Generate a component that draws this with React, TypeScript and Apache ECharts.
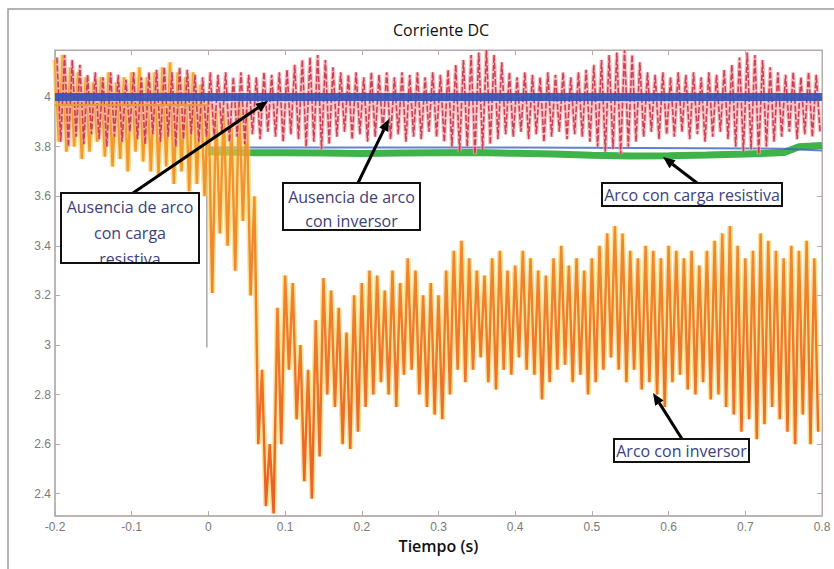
import React, { useEffect, useRef } from "react";
import * as echarts from "echarts";

// ---- data ----
const xTickLabels = ["-0.2", "-0.1", "0", "0.1", "0.2", "0.3", "0.4", "0.5", "0.6", "0.7", "0.8"];
const yTickValues = [2.4, 2.6, 2.8, 3.0, 3.2, 3.4, 3.6, 3.8, 4.0];

const cycleStart = -0.2; // s, first sampled cycle
const cycleStep = 0.01; // s, one oscillation cycle

// "Ausencia de arco con inversor" (red) — peak and trough of each cycle
const redPeaks = [
  4.16, 4.17, 4.15, 4.13,
  4.09, 4.1, 4.08, 4.1, 4.09, 4.07, 4.1, 4.08, 4.1,
  4.11, 4.12, 4.1, 4.12, 4.11, 4.09,
  4.08, 4.1, 4.09, 4.1, 4.08, 4.1, 4.09, 4.08, 4.1, 4.09, 4.1,
  4.11, 4.13, 4.15, 4.16, 4.17, 4.15, 4.12,
  4.1, 4.09, 4.1, 4.08, 4.1, 4.09, 4.1, 4.08, 4.1, 4.09, 4.1, 4.08, 4.1, 4.09, 4.11, 4.13,
  4.15, 4.17, 4.18, 4.19, 4.17, 4.14,
  4.1, 4.08, 4.1, 4.09, 4.08, 4.1, 4.09, 4.1, 4.08, 4.1, 4.11, 4.13,
  4.15, 4.17, 4.18, 4.19, 4.17, 4.14,
  4.1, 4.09, 4.1, 4.08, 4.1, 4.09, 4.1, 4.08, 4.1, 4.09, 4.11, 4.13,
  4.16, 4.18, 4.17, 4.15, 4.12,
  4.1, 4.09, 4.1, 4.08, 4.1, 4.09,
];
const redTroughs = [
  3.82, 3.8, 3.84, 3.81, 3.85, 3.83, 3.8, 3.84, 3.82, 3.86,
  3.83, 3.81, 3.85, 3.82, 3.84, 3.8, 3.83, 3.85, 3.82, 3.84,
  3.83, 3.86, 3.82, 3.84, 3.81, 3.85, 3.83, 3.86, 3.84, 3.82,
  3.85, 3.83, 3.8, 3.82, 3.79, 3.81, 3.84, 3.86, 3.83, 3.85,
  3.82, 3.84, 3.86, 3.83, 3.85, 3.82, 3.84, 3.83, 3.86, 3.84,
  3.82, 3.8, 3.78, 3.8, 3.77, 3.79, 3.81, 3.83, 3.85, 3.84,
  3.86, 3.83, 3.85, 3.82, 3.84, 3.86, 3.83, 3.85, 3.84, 3.82,
  3.8, 3.78, 3.79, 3.77, 3.8, 3.82, 3.84, 3.86, 3.83, 3.85,
  3.84, 3.86, 3.83, 3.85, 3.82, 3.84, 3.86, 3.83, 3.8, 3.78,
  3.79, 3.77, 3.8, 3.82, 3.84, 3.86, 3.83, 3.85, 3.84, 3.86,
];

// "Arco con inversor" (orange) — peak and trough of each cycle
const orangePeaks = [
  4.15, 4.17, 4.12, 4.1, 4.08, 4.06, 4.08, 4.1, 4.06, 4.08,
  4.1, 4.12, 4.08, 4.1, 4.12, 4.14, 4.1, 4.08, 4.1, 4.05,
  4.0, 3.95, 3.95, 3.9, 4.0, 3.95, 3.6, 2.9, 2.6, 3.15,
  3.28, 3.25, 3.0, 2.9, 3.1, 3.27, 3.22, 3.15, 3.05, 3.2,
  3.25, 3.3, 3.28, 3.22, 3.3, 3.25, 3.35, 3.3, 3.2, 3.25,
  3.2, 3.3, 3.38, 3.42, 3.35, 3.3, 3.28, 3.35, 3.38, 3.3,
  3.32, 3.38, 3.35, 3.3, 3.28, 3.35, 3.4, 3.32, 3.35, 3.3,
  3.35, 3.4, 3.45, 3.48, 3.45, 3.38, 3.35, 3.4, 3.38, 3.35,
  3.4, 3.38, 3.35, 3.38, 3.32, 3.38, 3.42, 3.45, 3.48, 3.4,
  3.35, 3.38, 3.45, 3.42, 3.38, 3.35, 3.4, 3.38, 3.42, 3.35,
];
const orangeTroughs = [
  3.82, 3.78, 3.8, 3.75, 3.78, 3.82, 3.76, 3.72, 3.75, 3.7,
  3.78, 3.74, 3.7, 3.68, 3.72, 3.65, 3.7, 3.62, 3.65, 3.6,
  3.21, 3.45, 3.4, 3.3, 3.5, 3.2, 2.6, 2.35, 2.32, 2.6,
  2.9, 2.7, 2.45, 2.38, 2.55, 2.8, 2.75, 2.6, 2.58, 2.65,
  2.75, 2.8, 2.85, 2.8, 2.75, 2.88, 2.9, 2.8, 2.75, 2.72,
  2.7, 2.8, 2.9, 2.85, 2.9, 2.95, 2.85, 2.82, 2.9, 2.88,
  2.95, 2.9, 2.88, 2.78, 2.85, 2.9, 2.92, 2.85, 2.88, 2.8,
  2.85, 2.9, 2.95, 2.9, 2.85, 2.9, 2.82, 2.85, 2.8, 2.75,
  2.85, 2.88, 2.82, 2.8, 2.85, 2.78, 2.8, 2.75, 2.72, 2.65,
  2.7, 2.62, 2.68, 2.75, 2.7, 2.65, 2.6, 2.72, 2.6, 2.65,
];

// "Arco con carga resistiva" (green band)
const greenTimes = [0, 0.05, 0.1, 0.15, 0.2, 0.25, 0.3, 0.35, 0.4, 0.45, 0.5, 0.55, 0.6, 0.65, 0.7, 0.75, 0.77, 0.8];
const greenValues = [3.78, 3.776, 3.775, 3.774, 3.772, 3.774, 3.775, 3.776, 3.773, 3.77, 3.765, 3.762, 3.763, 3.766, 3.77, 3.776, 3.8, 3.805];

// thin blue trace along the green band
const blueLowTimes = [0, 0.4, 0.75, 0.8];
const blueLowValues = [3.797, 3.797, 3.792, 3.785];

// "Ausencia de arco con carga resistiva" (thick blue)
const blueTimes = [-0.2, 0.8];
const blueValues = [4.0, 4.0];

// steady trace before the arc
const preTimes = [-0.2, 0.0];
const preValues = [3.968, 3.968];

// short grey transient at t = 0
const spikeTimes = [-0.002, -0.002];
const spikeValues = [3.95, 2.99];

function cyclePairs(peaks: number[], troughs: number[], phase: number) {
  const out: [number, number][] = [];
  for (let i = 0; i < peaks.length; i++) {
    const t = cycleStart + i * cycleStep + phase;
    out.push([t, peaks[i]]);
    out.push([t + cycleStep / 2, troughs[i]]);
  }
  return out;
}
function zipPairs(ts: number[], vs: number[]) {
  return ts.map((t, i) => [t, vs[i]]);
}

function arrow(x1: number, y1: number, x2: number, y2: number) {
  const a = Math.atan2(y2 - y1, x2 - x1);
  const L = 12, W = 5;
  const bx = x2 - L * Math.cos(a), by = y2 - L * Math.sin(a);
  return [
    { type: "line", shape: { x1, y1, x2: bx, y2: by }, style: { stroke: "#000", lineWidth: 3 }, z: 50 },
    {
      type: "polygon",
      shape: {
        points: [
          [x2, y2],
          [bx + W * Math.sin(a), by - W * Math.cos(a)],
          [bx - W * Math.sin(a), by + W * Math.cos(a)],
        ],
      },
      style: { fill: "#000" },
      z: 50,
    },
  ];
}

const FONT = "'Open Sans', 'Noto Sans', sans-serif";
const ANN = "#3d3f7c";

function box(x: number, y: number, w: number, h: number, lines: { text: string; y: number }[]) {
  const els: any[] = [
    { type: "rect", shape: { x, y, width: w, height: h }, style: { fill: "#fff", stroke: "#111", lineWidth: 2 }, z: 60 },
  ];
  lines.forEach((l) => {
    els.push({
      type: "text",
      x: x + w / 2,
      y: l.y,
      style: { text: l.text, fill: ANN, font: `16px ${FONT}`, textAlign: "center", textVerticalAlign: "middle" },
      z: 61,
    });
  });
  return els;
}

export default function App() {
  const ref = useRef<HTMLDivElement>(null);
  useEffect(() => {
    if (!ref.current) return;
    const chart = echarts.init(ref.current, undefined, { renderer: "svg" });
    const axisColor = "#b5abab";
    const orangeData = cyclePairs(orangePeaks, orangeTroughs, 0);
    const redData = cyclePairs(redPeaks, redTroughs, 0.0025);

    const graphics: any[] = [
      { type: "rect", shape: { x: 8, y: 9, width: 900, height: 700 }, style: { fill: "none", stroke: "#9c9c9c", lineWidth: 1.5 }, z: 1 },
      {
        type: "text",
        x: 441,
        y: 30,
        style: { text: "Corriente DC", fill: "#111", font: `16px ${FONT}`, textAlign: "center", textVerticalAlign: "middle" },
        z: 10,
      },
      ...arrow(133, 193, 268, 101),
      ...arrow(358, 183, 389, 119),
      ...arrow(697, 183, 663, 157),
      ...arrow(682, 439, 653, 393),
      ...box(61, 193, 138, 70, [
        { text: "Ausencia de arco", y: 207 },
        { text: "con carga", y: 233 },
        { text: "resistiva", y: 259 },
      ]),
      { type: "rect", shape: { x: 58, y: 264, width: 144, height: 12 }, style: { fill: "#fff" }, z: 62 },
      { type: "line", shape: { x1: 60, y1: 263, x2: 200, y2: 263 }, style: { stroke: "#111", lineWidth: 2 }, z: 63 },
      ...box(283, 183, 137, 47, [
        { text: "Ausencia de arco", y: 197 },
        { text: "con inversor", y: 221 },
      ]),
      ...box(602, 183, 180, 23, [{ text: "Arco con carga resistiva", y: 195 }]),
      ...box(614, 439, 135, 23, [{ text: "Arco con inversor", y: 451 }]),
    ];

    chart.setOption({
      animation: false,
      backgroundColor: "#fff",
      grid: { left: 55, right: 12, top: 50, bottom: 53, show: true, borderColor: axisColor, borderWidth: 1 },
      xAxis: [
        {
          type: "value",
          min: -0.2,
          max: 0.8,
          interval: 0.1,
          name: "Tiempo (s)",
          nameLocation: "middle",
          nameGap: 19,
          nameTextStyle: { color: "#111", fontFamily: FONT, fontSize: 16, fontWeight: 600 },
          axisLine: { onZero: false, lineStyle: { color: axisColor, width: 1.5 } },
          axisTick: { inside: true, length: 5, lineStyle: { color: axisColor } },
          axisLabel: {
            color: "#7a7a7a",
            fontFamily: "'Liberation Sans', Arial, sans-serif",
            fontSize: 12,
            margin: 5,
            formatter: (v: number) => xTickLabels[Math.round((v + 0.2) * 10)] ?? "",
          },
          splitLine: { show: false },
        },
        {
          type: "value",
          position: "top",
          min: -0.2,
          max: 0.8,
          interval: 0.1,
          axisLine: { onZero: false, lineStyle: { color: axisColor } },
          axisTick: { inside: true, length: 5, lineStyle: { color: axisColor } },
          axisLabel: { show: false },
          splitLine: { show: false },
        },
      ],
      yAxis: [
        {
          type: "value",
          min: 2.31,
          max: 4.19,
          axisLine: { show: true, onZero: false, lineStyle: { color: axisColor, width: 1.5 } },
          axisTick: { show: true, inside: true, length: 5, lineStyle: { color: axisColor }, customValues: yTickValues },
          axisLabel: {
            color: "#7a7a7a",
            fontFamily: "'Liberation Sans', Arial, sans-serif",
            fontSize: 12,
            margin: 4,
            customValues: yTickValues,
            formatter: (v: number) => String(Math.round(v * 10) / 10),
          },
          splitLine: { show: false },
        },
        {
          type: "value",
          position: "right",
          min: 2.31,
          max: 4.19,
          axisLine: { show: true, onZero: false, lineStyle: { color: axisColor } },
          axisTick: { show: true, inside: true, length: 5, lineStyle: { color: axisColor }, customValues: yTickValues },
          axisLabel: { show: false, customValues: yTickValues },
          splitLine: { show: false },
        },
      ],
      series: [
        {
          name: "Arco con carga resistiva",
          type: "line",
          data: zipPairs(greenTimes, greenValues),
          showSymbol: false,
          lineStyle: { color: "#3fb24a", width: 7 },
          z: 2,
        },
        {
          name: "blue-low",
          type: "line",
          data: zipPairs(blueLowTimes, blueLowValues),
          showSymbol: false,
          lineStyle: { color: "#3a63c4", width: 2, opacity: 0.8 },
          z: 2,
        },
        {
          name: "spike",
          type: "line",
          data: zipPairs(spikeTimes, spikeValues),
          showSymbol: false,
          lineStyle: { color: "#a8a8a8", width: 1.5 },
          z: 2,
        },
        {
          name: "Arco con inversor (halo)",
          type: "line",
          data: orangeData,
          showSymbol: false,
          lineStyle: { color: "#fbcf52", width: 5.5, opacity: 0.6 },
          z: 3,
        },
        {
          name: "Arco con inversor",
          type: "line",
          data: orangeData,
          showSymbol: false,
          lineStyle: {
            width: 2.4,
            opacity: 0.9,
            color: new echarts.graphic.LinearGradient(0, 0, 0, 1, [
              { offset: 0, color: "#f3a126" },
              { offset: 1, color: "#e8501c" },
            ]),
          },
          z: 4,
        },
        {
          name: "Ausencia de arco con inversor (halo)",
          type: "line",
          data: redData,
          showSymbol: false,
          lineStyle: { color: "#f3a9ad", width: 4, opacity: 0.7 },
          z: 5,
        },
        {
          name: "Ausencia de arco con inversor",
          type: "line",
          data: redData,
          showSymbol: false,
          lineStyle: { color: "#c42a44", width: 1.6, opacity: 0.85, type: [6, 2] },
          z: 6,
        },
        {
          name: "Ausencia de arco con carga resistiva",
          type: "line",
          data: zipPairs(blueTimes, blueValues),
          showSymbol: false,
          lineStyle: { color: "#3552b8", width: 8, opacity: 0.92 },
          z: 7,
        },
        {
          name: "pre",
          type: "line",
          data: zipPairs(preTimes, preValues),
          showSymbol: false,
          lineStyle: { color: "#e99a3c", width: 2 },
          z: 8,
        },
      ],
      graphic: graphics,
    });
    return () => chart.dispose();
  }, []);
  return <div ref={ref} style={{ position: "fixed", left: 0, top: 0, width: 834, height: 569 }} />;
}
